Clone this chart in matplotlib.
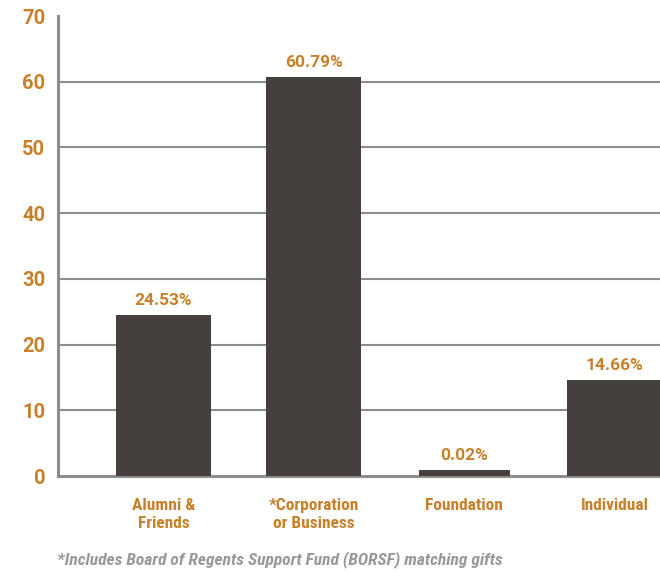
import matplotlib.pyplot as plt
import numpy as np

categories = ['Alumni &\nFriends', '*Corporation\nor Business', 'Foundation', 'Individual']
shares = [24.53, 60.79, 0.02, 14.66]
y_ticks = [0, 10, 20, 30, 40, 50, 60, 70]
footnote = '*Includes Board of Regents Support Fund (BORSF) matching gifts'

BAR = '#453f3e'
GOLD = '#c8812b'
GRID = '#8e8c8c'
NOTE = '#9a9898'
narrow = ['Roboto Condensed', 'DejaVu Sans']
plain = ['Roboto', 'DejaVu Sans']

fig = plt.figure(figsize=(6.6, 5.73), dpi=100)
ax = fig.add_axes([58 / 660, 97 / 573, 1 - 58 / 660, 460 / 573])

x = np.arange(len(categories))
# tiny values get a thick edge so the bar still shows above the baseline
widths = [0.63 if v > 0.5 else 0.60 for v in shares]
edges = [0 if v > 0.5 else 8.6 for v in shares]
ax.bar(x, shares, width=widths, color=BAR, edgecolor=BAR, linewidth=edges, zorder=3)

for xi, v, lw in zip(x, shares, edges):
    ax.annotate(f'{v:.2f}%', (xi, v), xytext=(0, 5 + lw / 2), textcoords='offset points',
                ha='center', va='bottom', color=GOLD, fontsize=12.5, fontweight='bold',
                family=plain)

for t in y_ticks[1:-1]:
    ax.axhline(t, color=GRID, lw=1.5, zorder=1)

ax.set_xlim(-0.70, 3.30)
ax.set_ylim(0, 70)
ax.set_yticks(y_ticks)
ax.set_yticklabels([str(t) for t in y_ticks], family=plain, fontweight='bold',
                   fontsize=14.5, color=GOLD)
ax.set_xticks(x)
ax.set_xticklabels(categories, family=narrow, fontweight='bold', fontsize=12.5,
                   color=GOLD, linespacing=1.3)
ax.tick_params(axis='y', length=0, pad=9)
ax.tick_params(axis='x', length=0, pad=15.5)

for side in ['top', 'right']:
    ax.spines[side].set_visible(False)
ax.spines['left'].set_color(GRID)
ax.spines['left'].set_linewidth(2.2)
ax.spines['bottom'].set_color(GRID)
ax.spines['bottom'].set_linewidth(2.2)
ax.spines['bottom'].set_zorder(2)

fig.text(57 / 660, 1 - 560 / 573, footnote, family=narrow, style='italic',
         fontweight='bold', fontsize=12.6, color=NOTE, ha='left', va='center')

fig.savefig('out.png', dpi=100)
